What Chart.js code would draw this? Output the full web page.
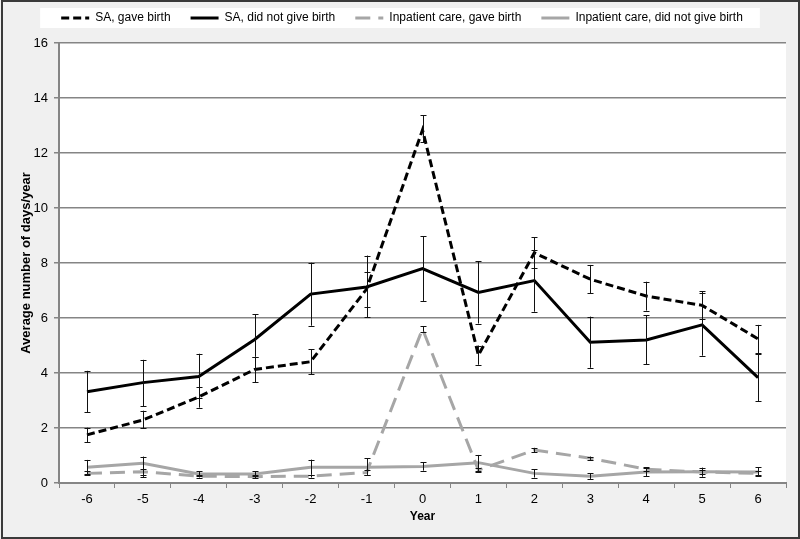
<!DOCTYPE html>
<html>
<head>
<meta charset="utf-8">
<script src="https://cdn.jsdelivr.net/npm/chart.js@4"></script>
<style>
html,body{margin:0;padding:0;background:#f0f0f0;}
#wrap{width:800px;height:539px;position:relative;}
</style>
</head>
<body>
<div id="wrap"><canvas id="c" width="800" height="539"></canvas></div>
<script>
const years = ['-6','-5','-4','-3','-2','-1','0','1','2','3','4','5','6'];
const yTicks = [0,2,4,6,8,10,12,14,16];

const saGave     = [1.75, 2.29, 3.13, 4.13, 4.41, 7.05, 12.84, 4.65, 8.37, 7.41, 6.80, 6.46, 5.24];
const saGaveLo   = [1.49, 2.00, 2.74, 3.66, 3.96, 6.40, 12.40, 4.30, 7.83, 6.90, 6.27, 5.95, 4.72];
const saGaveHi   = [2.01, 2.63, 3.50, 4.59, 4.86, 7.68, 13.38, 5.00, 8.93, 7.93, 7.32, 6.98, 5.75];

const saNot      = [3.32, 3.65, 3.87, 5.22, 6.87, 7.13, 7.80, 6.93, 7.36, 5.12, 5.20, 5.75, 3.83];
const saNotLo    = [2.57, 2.80, 3.10, 4.59, 5.72, 6.02, 6.62, 5.80, 6.23, 4.19, 4.32, 4.63, 2.98];
const saNotHi    = [4.08, 4.48, 4.70, 6.13, 8.01, 8.27, 8.98, 8.07, 8.49, 6.05, 6.10, 6.90, 4.70];

const ipGave     = [0.35, 0.41, 0.25, 0.23, 0.25, 0.38, 5.60, 0.47, 1.20, 0.90, 0.50, 0.40, 0.35];
const ipGaveLo   = [0.30, 0.30, 0.20, 0.18, 0.20, 0.30, 5.50, 0.40, 1.12, 0.84, 0.42, 0.33, 0.28];
const ipGaveHi   = [0.42, 0.52, 0.30, 0.30, 0.30, 0.46, 5.70, 0.55, 1.28, 0.96, 0.58, 0.47, 0.42];

const ipNot      = [0.57, 0.72, 0.33, 0.33, 0.57, 0.57, 0.60, 0.74, 0.35, 0.25, 0.40, 0.41, 0.40];
const ipNotLo    = [0.33, 0.22, 0.25, 0.25, 0.30, 0.30, 0.45, 0.45, 0.20, 0.15, 0.25, 0.23, 0.25];
const ipNotHi    = [0.84, 0.96, 0.42, 0.42, 0.85, 0.90, 0.75, 1.02, 0.50, 0.35, 0.55, 0.56, 0.58];

const seriesNames = ['SA, gave birth','SA, did not give birth','Inpatient care, gave birth','Inpatient care, did not give birth'];

const FONT = '"Liberation Sans", Arial, sans-serif';
const GRID = '#858585';
const LEGEND_DX = 9;
const LEGEND_DY = -8;

const bgPlugin = {
  id: 'bg',
  beforeDraw(chart) {
    const ctx = chart.ctx, a = chart.chartArea;
    ctx.save();
    ctx.fillStyle = '#f0f0f0';
    ctx.fillRect(0, 0, chart.width, chart.height);
    ctx.fillStyle = '#ffffff';
    ctx.fillRect(a.left, a.top, a.right - a.left, a.bottom - a.top);
    const hb = chart.legend && chart.legend.legendHitBoxes;
    if (hb && hb.length) {
      let l = Infinity, r = -Infinity, t = Infinity, b = -Infinity;
      hb.forEach(h => { l = Math.min(l, h.left); r = Math.max(r, h.left + h.width); t = Math.min(t, h.top); b = Math.max(b, h.top + h.height); });
      const cy = (t + b) / 2 + LEGEND_DY;
      ctx.fillRect(l + LEGEND_DX - 21, cy - 10, (r - l) + 38, 20);
    }
    ctx.strokeStyle = '#3a3a3a';
    ctx.lineWidth = 2;
    ctx.strokeRect(2, 1, chart.width - 3, chart.height - 2);
    ctx.restore();
  }
};

const errorData = [[saGaveLo, saGaveHi],[saNotLo, saNotHi],[ipGaveLo, ipGaveHi],[ipNotLo, ipNotHi]];
const errPlugin = {
  id: 'errbars',
  afterDatasetsDraw(chart) {
    const ctx = chart.ctx, ys = chart.scales.y;
    ctx.save();
    ctx.strokeStyle = '#111';
    ctx.lineWidth = 1;
    ctx.setLineDash([]);
    errorData.forEach((pair, di) => {
      const meta = chart.getDatasetMeta(di);
      meta.data.forEach((pt, i) => {
        const x = Math.round(pt.x) + 0.5;
        const y1 = ys.getPixelForValue(pair[0][i]);
        const y2 = ys.getPixelForValue(pair[1][i]);
        ctx.beginPath();
        ctx.moveTo(x, y1); ctx.lineTo(x, y2);
        ctx.moveTo(x - 3, Math.round(y1) + 0.5); ctx.lineTo(x + 3, Math.round(y1) + 0.5);
        ctx.moveTo(x - 3, Math.round(y2) + 0.5); ctx.lineTo(x + 3, Math.round(y2) + 0.5);
        ctx.stroke();
      });
    });
    ctx.restore();
  }
};

const legendSize = {
  id: 'legendSize',
  afterInit(chart) {
    const lg = chart.legend;
    if (!lg) return;
    const origFit = lg.fit.bind(lg);
    lg.fit = function() { origFit(); this.height = 43; };
    const origDraw = lg.draw.bind(lg);
    lg.draw = function() {
      const ctx = this.ctx;
      ctx.save();
      ctx.translate(LEGEND_DX, LEGEND_DY);
      origDraw();
      ctx.restore();
    };
  }
};

new Chart(document.getElementById('c'), {
  type: 'line',
  data: {
    labels: years,
    datasets: [
      { label: seriesNames[0], data: saGave, borderColor: '#000', backgroundColor: '#000', borderWidth: 3, borderDash: [8, 4], pointRadius: 0, tension: 0, fill: false },
      { label: seriesNames[1], data: saNot, borderColor: '#000', backgroundColor: '#000', borderWidth: 3, pointRadius: 0, tension: 0, fill: false },
      { label: seriesNames[2], data: ipGave, borderColor: '#a6a6a6', backgroundColor: '#a6a6a6', borderWidth: 3, borderDash: [15, 8], pointRadius: 0, tension: 0, fill: false },
      { label: seriesNames[3], data: ipNot, borderColor: '#a6a6a6', backgroundColor: '#a6a6a6', borderWidth: 3, pointRadius: 0, tension: 0, fill: false }
    ]
  },
  options: {
    responsive: false,
    animation: false,
    layout: { padding: { left: 0, right: 14, top: 0, bottom: 0 } },
    plugins: {
      legend: {
        position: 'top',
        labels: {
          font: { family: FONT, size: 12 },
          color: '#000',
          usePointStyle: true,
          pointStyle: 'line',
          pointStyleWidth: 28,
          boxWidth: 28,
          boxHeight: 8,
          padding: 20,
          generateLabels(chart) {
            return chart.data.datasets.map((ds, i) => ({
              text: ds.label,
              fillStyle: ds.borderColor,
              strokeStyle: ds.borderColor,
              lineWidth: ds.borderWidth,
              lineDash: ds.borderDash || [],
              pointStyle: 'line',
              datasetIndex: i,
              hidden: false
            }));
          }
        }
      },
      tooltip: { enabled: false }
    },
    scales: {
      x: {
        offset: true,
        afterFit(s) { s.height = 56; },
        grid: { offset: true, drawOnChartArea: false, drawTicks: true, tickLength: 5, color: GRID, lineWidth: 1 },
        border: { display: true, color: GRID, width: 2 },
        ticks: { font: { family: FONT, size: 13 }, color: '#000', padding: 4, maxRotation: 0 },
        title: { display: true, text: 'Year', font: { family: FONT, size: 12, weight: 'bold' }, color: '#000', padding: { top: 0, bottom: 15 } }
      },
      y: {
        min: 0, max: 16,
        afterFit(s) { s.width = 59; },
        afterBuildTicks(s) { s.ticks = yTicks.map(v => ({ value: v })); },
        grid: { drawOnChartArea: true, tickLength: 5, color: GRID, lineWidth: 1.5 },
        border: { display: true, color: GRID, width: 2 },
        ticks: { font: { family: FONT, size: 13 }, color: '#000', padding: 6 },
        title: { display: true, text: 'Average number of days/year', font: { family: FONT, size: 13, weight: 'bold' }, color: '#000', padding: { top: 19, bottom: 0 } }
      }
    }
  },
  plugins: [legendSize, bgPlugin, errPlugin]
});
</script>
</body>
</html>
